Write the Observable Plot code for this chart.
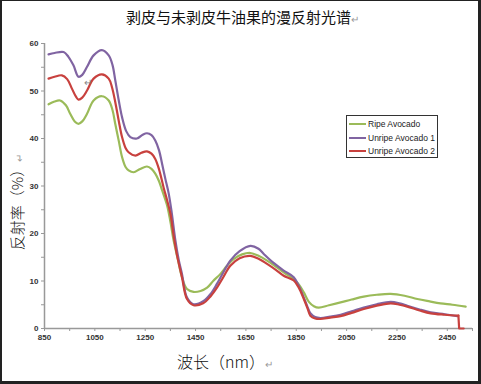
<!DOCTYPE html>
<html><head><meta charset="utf-8">
<script src="https://cdn.jsdelivr.net/npm/d3@7"></script>
<script src="https://cdn.jsdelivr.net/npm/@observablehq/plot@0.6"></script>
<style>
html,body{margin:0;padding:0;background:#fff;}
#wrap{position:relative;width:481px;height:384px;overflow:hidden;background:#fff;font-family:"Noto Sans CJK SC","Noto Sans",sans-serif;}
#frame{position:absolute;left:0;top:0;width:481px;height:384px;box-sizing:border-box;border-style:solid;border-color:#222;border-width:1px 3px 3px 2px;pointer-events:none;}
.t{position:absolute;white-space:nowrap;color:#111;}
.rt{color:#999;font-size:10px;}
#legend{position:absolute;left:346px;top:115px;width:92px;height:43px;box-sizing:border-box;border:1px solid #333;background:#fff;font-family:"Liberation Sans",Arial,sans-serif;font-size:8.5px;color:#222;}
#legend .row{position:absolute;left:2px;height:12px;display:flex;align-items:center;}
#legend .sw{display:inline-block;width:17px;height:2px;margin-right:2px;}
</style></head>
<body>
<div id="wrap">
  <div id="chart"></div>
  <div class="t" style="left:126px;top:6px;font-size:15px;">剥皮与未剥皮牛油果的漫反射光谱<span class="rt">↵</span></div>
  <div class="t" style="left:16px;top:202px;font-size:15px;font-weight:300;transform:translate(-50%,-50%) rotate(-90deg);">反射率（%）<span class="rt">↵</span></div>
  <div class="t" style="left:177px;top:349px;font-size:16px;font-weight:300;">波长（nm）<span class="rt">↵</span></div>
  <div class="t rt" style="left:84px;top:74px;color:#888;">↵</div>
  <div id="legend"></div>
  <div id="frame"></div>
</div>
<script>
const seriesNames = ["Ripe Avocado", "Unripe Avocado 1", "Unripe Avocado 2"];
const seriesColors = ["#9BBB59", "#8064A2", "#C8413E"];
const xTicks = [850, 1050, 1250, 1450, 1650, 1850, 2050, 2250, 2450];
const yTicks = [0, 10, 20, 30, 40, 50, 60];

const ripeNm = [866,890,912,935,952,970,985,1000,1019,1045,1078,1105,1120,1131,1145,1158,1172,1184,1204,1230,1257,1275,1290,1305,1317,1337,1350,1363,1380,1396,1416,1442,1470,1496,1520,1549,1575,1601,1635,1668,1700,1734,1770,1800,1840,1860,1880,1900,1920,1939,1980,2026,2070,2118,2170,2225,2280,2331,2380,2423,2470,2523];
const ripeVal = [47.2,47.8,48.0,47.0,45.2,43.6,43.1,43.6,45.2,48.0,48.9,48.0,46.0,43.1,39.5,36.1,34.0,33.3,32.9,33.6,34.1,33.6,32.6,31.0,29.1,25.9,22.5,18.5,14.5,10.8,8.3,7.7,7.9,8.6,10.0,11.5,13.2,14.6,15.6,15.9,15.3,14.3,13.0,11.8,10.4,9.3,7.6,5.6,4.7,4.4,4.9,5.5,6.1,6.7,7.1,7.3,6.9,6.2,5.7,5.3,5.0,4.6];

const unripe1Nm = [866,890,926,945,965,985,1000,1019,1045,1078,1105,1120,1131,1145,1158,1175,1191,1217,1240,1257,1275,1290,1305,1317,1330,1343,1355,1370,1383,1396,1416,1442,1482,1510,1535,1560,1588,1625,1668,1700,1721,1760,1800,1840,1860,1880,1895,1906,1925,1946,1985,2026,2070,2118,2170,2225,2260,2291,2340,2384,2440,2490];
const unripe1Val = [57.7,58.0,58.2,57.2,55.4,53.0,53.4,55.1,57.5,58.6,57.5,55.5,52.3,48.0,44.5,41.5,40.3,40.0,40.8,41.1,40.7,39.6,37.5,34.7,31.5,28.5,24.5,18.5,14.5,11.5,6.5,5.1,5.8,7.3,9.4,11.8,14.3,16.3,17.4,16.8,15.7,13.8,12.2,10.8,9.0,6.5,4.5,3.2,2.4,2.2,2.5,2.9,3.6,4.4,5.1,5.6,5.3,4.8,4.0,3.4,3.0,2.6];

const unripe2Nm = [866,890,919,940,959,975,985,1000,1019,1045,1078,1105,1118,1131,1145,1158,1172,1184,1211,1235,1257,1275,1290,1305,1323,1337,1350,1363,1376,1396,1416,1442,1480,1510,1535,1560,1588,1625,1668,1700,1734,1770,1800,1840,1860,1880,1895,1906,1925,1946,1985,2026,2070,2118,2170,2225,2260,2291,2340,2384,2440,2494];
const unripe2Val = [52.6,53.0,53.3,52.5,50.5,48.8,48.2,48.6,50.1,52.6,53.5,52.6,50.8,47.7,43.7,40.3,38.0,37.1,36.4,37.0,37.3,36.8,35.7,33.5,29.7,27.0,24.2,19.5,15.5,10.8,6.2,4.9,5.3,6.8,8.6,10.8,13.2,14.8,15.3,14.7,13.6,12.3,11.1,10.1,8.6,6.2,4.2,2.7,2.1,2.0,2.3,2.6,3.3,4.1,4.8,5.3,5.0,4.6,3.8,3.2,2.9,2.7];
// instrument cut-off at the end of Unripe Avocado 2 (drop to zero)
const unripe2TailNm = [2494, 2497, 2515];
const unripe2TailVal = [2.7, 0, 0];

const toRows = (name, xs, ys) => xs.map((x, i) => ({series: name, nm: x, v: ys[i]}));
const data = [
  ...toRows(seriesNames[0], ripeNm, ripeVal),
  ...toRows(seriesNames[1], unripe1Nm, unripe1Val),
  ...toRows(seriesNames[2], unripe2Nm, unripe2Val)
];
const tail = toRows(seriesNames[2], unripe2TailNm, unripe2TailVal);

const minorX = d3.range(850, 2551, 100);
const minorY = d3.range(0, 61, 5);

const chart = Plot.plot({
  width: 481, height: 384,
  marginLeft: 44, marginRight: 9, marginTop: 43, marginBottom: 56,
  style: {fontFamily: "'Liberation Sans', Arial, sans-serif", fontSize: "8px", background: "transparent", overflow: "visible"},
  x: {domain: [850, 2550]},
  y: {domain: [0, 60]},
  color: {domain: seriesNames, range: seriesColors},
  marks: [
    Plot.axisX(minorX, {tickSize: 3, tickPadding: 3, stroke: "#999", fill: "#333", fontWeight: "bold",
      tickFormat: d => xTicks.includes(d) ? String(d) : "", label: null}),
    Plot.axisY(minorY, {tickSize: 3, tickPadding: 3, stroke: "#999", fill: "#333", fontWeight: "bold",
      tickFormat: d => yTicks.includes(d) ? String(d) : "", label: null}),
    Plot.ruleY([0], {stroke: "#999", strokeWidth: 1.5}),
    Plot.ruleX([850], {stroke: "#999", strokeWidth: 1.5}),
    Plot.line(data, {x: "nm", y: "v", stroke: "series", z: "series", strokeWidth: 2.2, curve: "catmull-rom"}),
    Plot.line(tail, {x: "nm", y: "v", stroke: "series", strokeWidth: 2.2, curve: "linear"})
  ]
});
document.getElementById("chart").appendChild(chart);

const legend = document.getElementById("legend");
seriesNames.forEach((n, i) => {
  const row = document.createElement("div");
  row.className = "row";
  row.style.top = (2 + i * 13.5) + "px";
  row.innerHTML = `<span class="sw" style="background:${seriesColors[i]}"></span><span>${n}</span>`;
  legend.appendChild(row);
});
</script>
</body></html>
